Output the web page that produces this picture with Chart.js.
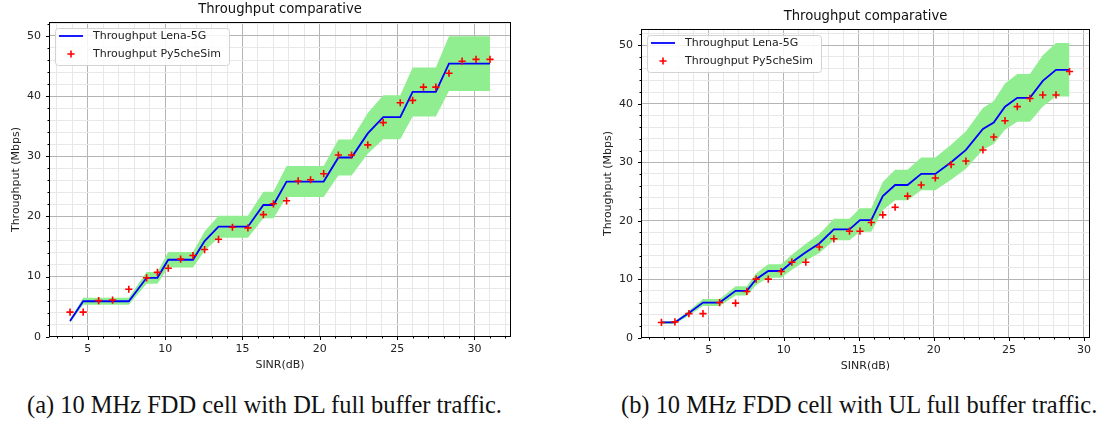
<!DOCTYPE html>
<html><head><meta charset="utf-8">
<script src="https://cdn.jsdelivr.net/npm/chart.js@4.4.1/dist/chart.umd.min.js"></script>
<style>
html,body{margin:0;padding:0;background:#fff;width:1097px;height:421px;overflow:hidden;position:relative}
.wrap{position:absolute}
.cap{position:absolute;font-family:"Liberation Serif","DejaVu Serif",serif;white-space:nowrap;color:#111;line-height:1}
</style></head><body>
<div class="wrap" style="left:0;top:0;width:520px;height:380px"><canvas id="c1" width="520" height="380"></canvas></div>
<div class="wrap" style="left:592px;top:0;width:505px;height:381px"><canvas id="c2" width="505" height="381"></canvas></div>
<div class="cap" id="capA" style="left:27px;top:393px">(a) 10 MHz FDD cell with DL full buffer traffic.</div>
<div class="cap" id="capB" style="left:621px;top:393px">(b) 10 MHz FDD cell with UL full buffer traffic.</div>
<script>
// ---------- DATA ----------
const chartTitle = 'Throughput comparative';
const xAxisLabel = 'SINR(dB)';
const yAxisLabel = 'Throughput (Mbps)';
const lineLabel = 'Throughput Lena-5G';
const markerLabel = 'Throughput Py5cheSim';

// (a) DL
const sinrDL = [3.85, 4.7, 5.7, 6.6, 7.65, 8.8, 9.5, 10.2, 11.0, 11.8, 12.55, 13.45, 14.35, 15.35, 16.35, 17.0,
  17.85, 18.6, 19.4, 20.25, 21.2, 22.05, 23.1, 24.1, 25.2, 26.0, 26.7, 27.5, 28.35, 29.2, 30.1, 31.0];
const lenaDL = [2.6, 5.9, 5.9, 5.9, 5.9, 9.8, 9.8, 12.8, 12.8, 12.8, 15.9, 18.3, 18.3, 18.3, 21.9, 21.9,
  25.8, 25.8, 25.8, 25.8, 29.8, 29.8, 33.8, 36.5, 36.5, 40.7, 40.7, 40.7, 45.4, 45.4, 45.4, 45.4];
const bandHighDL = [2.86, 6.49, 6.49, 6.49, 6.49, 10.78, 10.78, 14.08, 14.08, 14.08, 17.49, 20.13, 20.13, 20.13, 24.09, 24.09,
  28.38, 28.38, 28.38, 28.38, 32.78, 32.78, 37.18, 40.15, 40.15, 44.77, 44.77, 44.77, 49.94, 49.94, 49.94, 49.94];
const bandLowDL = [2.34, 5.31, 5.31, 5.31, 5.31, 8.82, 8.82, 11.52, 11.52, 11.52, 14.31, 16.47, 16.47, 16.47, 19.71, 19.71,
  23.22, 23.22, 23.22, 23.22, 26.82, 26.82, 30.42, 32.85, 32.85, 36.63, 36.63, 36.63, 40.86, 40.86, 40.86, 40.86];
const py5DL = [4.1, 4.1, 6.0, 6.1, 7.9, 9.8, 10.7, 11.4, 12.9, 13.5, 14.5, 16.2, 18.2, 18.1, 20.3, 22.1,
  22.6, 25.9, 26.1, 27.1, 30.2, 30.2, 31.9, 35.6, 38.9, 39.3, 41.5, 41.5, 43.8, 45.8, 46.1, 46.1];

// (b) UL
const sinrUL = [1.85, 2.75, 3.68, 4.62, 5.73, 6.79, 7.54, 8.16, 8.97, 9.83, 10.54, 11.47, 12.37, 13.34, 14.38, 15.08,
  15.83, 16.6, 17.42, 18.25, 19.16, 20.1, 21.15, 22.14, 23.27, 23.99, 24.74, 25.56, 26.4, 27.26, 28.14, 29.04];
const lenaUL = [2.6, 2.6, 4.2, 6.0, 6.0, 8.0, 8.0, 10.0, 11.4, 11.4, 12.9, 14.6, 16.1, 18.5, 18.5, 20.1,
  20.1, 24.2, 26.1, 26.1, 28.0, 28.0, 30.0, 32.1, 35.7, 36.8, 39.5, 41.0, 41.0, 43.9, 45.8, 45.8];
const bandHighUL = [2.86, 2.86, 4.62, 6.6, 6.6, 8.8, 8.8, 11.0, 12.54, 12.54, 14.19, 16.06, 17.71, 20.35, 20.35, 22.11,
  22.11, 26.62, 28.71, 28.71, 30.8, 30.8, 33.0, 35.31, 39.27, 40.48, 43.45, 45.1, 45.1, 48.29, 50.38, 50.38];
const bandLowUL = [2.34, 2.34, 3.78, 5.4, 5.4, 7.2, 7.2, 9.0, 10.26, 10.26, 11.61, 13.14, 14.49, 16.65, 16.65, 18.09,
  18.09, 21.78, 23.49, 23.49, 25.2, 25.2, 27.0, 28.89, 32.13, 33.12, 35.55, 36.9, 36.9, 39.51, 41.22, 41.22];
const py5UL = [2.6, 2.7, 4.1, 4.1, 6.0, 5.9, 7.9, 10.0, 10.0, 11.3, 12.9, 12.9, 15.5, 16.9, 18.2, 18.2,
  19.7, 21.0, 22.3, 24.2, 26.1, 27.3, 29.6, 30.2, 32.1, 34.3, 37.1, 39.5, 40.9, 41.5, 41.5, 45.5];

// axis ranges
const xRangeDL = [2.49, 32.36], yRangeDL = [-0.04, 52.32];
const xRangeUL = [0.49, 30.40], yRangeUL = [-0.06, 52.78];
const xMajor = 5, xMinor = 1, yMajor = 10, yMinor = 2;

// ---------- RENDER ----------
Chart.defaults.font.family = '"DejaVu Sans", sans-serif';
Chart.defaults.color = '#222';
const isMult = (v, m) => Math.abs(v / m - Math.round(v / m)) < 1e-6;

const decor = {
  id: 'decor',
  afterDraw(chart) {
    const ctx = chart.ctx, a = chart.chartArea;
    const xs = chart.scales.x, ys = chart.scales.y;
    ctx.save();
    // frame
    ctx.strokeStyle = '#000'; ctx.lineWidth = 1;
    const L = Math.round(a.left) + 0.5, T = Math.round(a.top) + 0.5,
          R = Math.round(a.right) - 0.5, B = Math.round(a.bottom) - 0.5;
    ctx.strokeRect(L, T, R - L, B - T);
    // tick marks
    ctx.beginPath();
    xs.ticks.forEach(t => {
      const p = Math.round(xs.getPixelForValue(t.value)) + 0.5;
      const len = isMult(t.value, xMajor) ? 3.5 : 2;
      ctx.moveTo(p, B); ctx.lineTo(p, B + len);
    });
    ys.ticks.forEach(t => {
      const p = Math.round(ys.getPixelForValue(t.value)) + 0.5;
      const len = isMult(t.value, yMajor) ? 3.5 : 2;
      ctx.moveTo(L, p); ctx.lineTo(L - len, p);
    });
    ctx.stroke();
    // title
    ctx.fillStyle = '#111';
    ctx.font = '13.2px "DejaVu Sans"';
    ctx.textAlign = 'center'; ctx.textBaseline = 'alphabetic';
    ctx.fillText(chartTitle, (a.left + a.right) / 2, a.top - 8.7);
    // legend
    const ds = chart.data.datasets;
    const entries = [ds[1], ds[0]];
    ctx.font = '11px "DejaVu Sans"';
    const tw = Math.max(...entries.map(e => ctx.measureText(e.label).width));
    const bx = a.left + 6, by = a.top + 5.5, bw = 38 + tw + 8, bh = 37;
    ctx.beginPath();
    ctx.roundRect(Math.round(bx) + 0.5, Math.round(by) + 0.5, Math.round(bw), bh, 3);
    ctx.fillStyle = 'rgba(255,255,255,0.85)'; ctx.fill();
    ctx.strokeStyle = '#d3d3d3'; ctx.lineWidth = 1; ctx.stroke();
    const r1 = by + 8.5, r2 = by + 26.5;
    ctx.strokeStyle = ds[1].borderColor; ctx.lineWidth = 1.8;
    ctx.beginPath(); ctx.moveTo(bx + 4, r1); ctx.lineTo(bx + 28, r1); ctx.stroke();
    ctx.strokeStyle = ds[0].borderColor; ctx.lineWidth = 1.6;
    ctx.beginPath();
    ctx.moveTo(bx + 16 - 3.6, r2); ctx.lineTo(bx + 16 + 3.6, r2);
    ctx.moveTo(bx + 16, r2 - 3.6); ctx.lineTo(bx + 16, r2 + 3.6);
    ctx.stroke();
    ctx.fillStyle = '#222'; ctx.textAlign = 'left'; ctx.textBaseline = 'middle';
    ctx.fillText(entries[0].label, bx + 38, r1);
    ctx.fillText(entries[1].label, bx + 38, r2);
    ctx.restore();
  }
};

function makeChart(id, sinr, lena, hi, lo, py5, xr, yr, pad) {
  const pts = arr => sinr.map((x, i) => ({x, y: arr[i]}));
  return new Chart(document.getElementById(id), {
    type: 'line',
    data: {
      datasets: [
        {label: markerLabel, data: pts(py5), showLine: false, pointStyle: 'cross',
         pointRadius: 3.6, pointHoverRadius: 3.6, pointBorderWidth: 1.6, borderColor: '#ff0000', backgroundColor: '#ff0000', order: 0},
        {label: lineLabel, data: pts(lena), borderColor: '#0000ff', borderWidth: 1.8, pointRadius: 0,
         fill: false, tension: 0, order: 1},
        {label: 'upper', data: pts(hi), borderColor: 'rgba(0,0,0,0)', borderWidth: 0, pointRadius: 0,
         fill: 3, backgroundColor: '#90ee90', tension: 0, order: 2},
        {label: 'lower', data: pts(lo), borderColor: 'rgba(0,0,0,0)', borderWidth: 0, pointRadius: 0,
         fill: false, tension: 0, order: 3}
      ]
    },
    options: {
      responsive: false, animation: false, devicePixelRatio: 1, events: [],
      layout: {padding: pad},
      plugins: {legend: {display: false}, tooltip: {enabled: false}, title: {display: false}},
      scales: {
        x: {
          type: 'linear', position: 'bottom', min: xr[0], max: xr[1],
          afterFit: s => { s.height = 43; },
          border: {display: false},
          grid: {drawTicks: false, lineWidth: 1,
                 color: c => isMult(c.tick.value, xMajor) ? '#b4b4b4' : '#e8e8e8'},
          ticks: {stepSize: xMinor, autoSkip: false, maxRotation: 0, includeBounds: false, padding: 6,
                  font: {size: 11}, color: '#222',
                  callback: v => isMult(v, xMajor) ? String(Math.round(v)) : ''},
          title: {display: true, text: xAxisLabel, font: {size: 11}, color: '#222', padding: {top: 0, bottom: 8.4}}
        },
        y: {
          type: 'linear', position: 'left', min: yr[0], max: yr[1],
          afterFit: s => { s.width = 49; },
          border: {display: false},
          grid: {drawTicks: false, lineWidth: 1,
                 color: c => isMult(c.tick.value, yMajor) ? '#b4b4b4' : '#e8e8e8'},
          ticks: {stepSize: yMinor, autoSkip: false, includeBounds: false, padding: 8,
                  font: {size: 11}, color: '#222',
                  callback: v => isMult(v, yMajor) ? String(Math.round(v)) : ''},
          title: {display: true, text: yAxisLabel, font: {size: 11}, color: '#222', padding: {top: 9.4, bottom: 0}}
        }
      }
    },
    plugins: [decor]
  });
}

makeChart('c1', sinrDL, lenaDL, bandHighDL, bandLowDL, py5DL, xRangeDL, yRangeDL, {left: 0, right: 9, top: 22, bottom: 0});
makeChart('c2', sinrUL, lenaUL, bandHighUL, bandLowUL, py5UL, xRangeUL, yRangeUL, {left: 0, right: 4, top: 29, bottom: 0});

// caption sizing
(function () {
  const m = document.createElement('canvas').getContext('2d');
  const a = document.getElementById('capA'), b = document.getElementById('capB');
  m.font = '20px "Liberation Serif"';
  const w = m.measureText(a.textContent).width;
  const size = 20 * 476 / w;
  a.style.fontSize = b.style.fontSize = size.toFixed(2) + 'px';
})();
</script>
</body></html>
